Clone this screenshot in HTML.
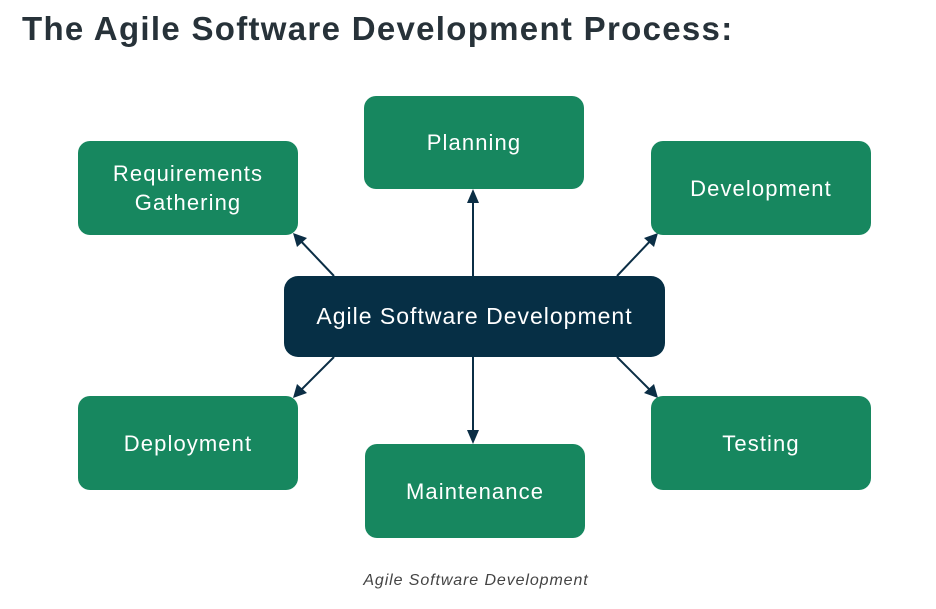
<!DOCTYPE html>
<html><head><style>
body{margin:0;width:936px;height:609px;background:#fff;position:relative;font-family:"Liberation Sans",sans-serif;overflow:hidden}
h1{position:absolute;left:22px;top:10px;margin:0;font-size:33px;font-weight:bold;color:#273239;letter-spacing:1.3px}
.b{position:absolute;background:#17875f;color:#fff;border-radius:12px;display:flex;align-items:center;justify-content:center;text-align:center;font-size:22px;letter-spacing:1.1px;line-height:29px;width:220px;height:94px}
.c{position:absolute;left:284px;top:276px;width:381px;height:81px;background:#062f45;color:#fff;border-radius:14px;display:flex;align-items:center;justify-content:center;font-size:23px;letter-spacing:1px}
.cap{position:absolute;top:572px;left:0;width:952px;text-align:center;font-style:italic;color:#444;font-size:16px;letter-spacing:0.9px}
</style></head><body>
<h1>The Agile Software Development Process:</h1>
<svg width="936" height="609" style="position:absolute;left:0;top:0">
<g stroke="#0b2e45" stroke-width="2" fill="none">
<line x1="473" y1="276" x2="473" y2="193"/>
<line x1="473" y1="357" x2="473" y2="440"/>
<line x1="334" y1="276" x2="297" y2="237"/>
<line x1="617" y1="276" x2="654" y2="237"/>
<line x1="334" y1="357" x2="297" y2="394"/>
<line x1="617" y1="357" x2="654" y2="394"/>
</g>
<g fill="#0b2e45">
<polygon points="473,189 467,203 479,203"/>
<polygon points="473,444 467,430 479,430"/>
<polygon points="293,233 297,247 307,238"/>
<polygon points="658,233 644,238 654,247"/>
<polygon points="293,398 307,393 297,384"/>
<polygon points="658,398 654,384 644,393"/>
</g>
</svg>
<div class="b" style="left:364px;top:96px;height:93px">Planning</div>
<div class="b" style="left:78px;top:141px">Requirements<br>Gathering</div>
<div class="b" style="left:651px;top:141px">Development</div>
<div class="b" style="left:78px;top:396px">Deployment</div>
<div class="b" style="left:365px;top:444px">Maintenance</div>
<div class="b" style="left:651px;top:396px">Testing</div>
<div class="c">Agile Software Development</div>
<div class="cap">Agile Software Development</div>
</body></html>
